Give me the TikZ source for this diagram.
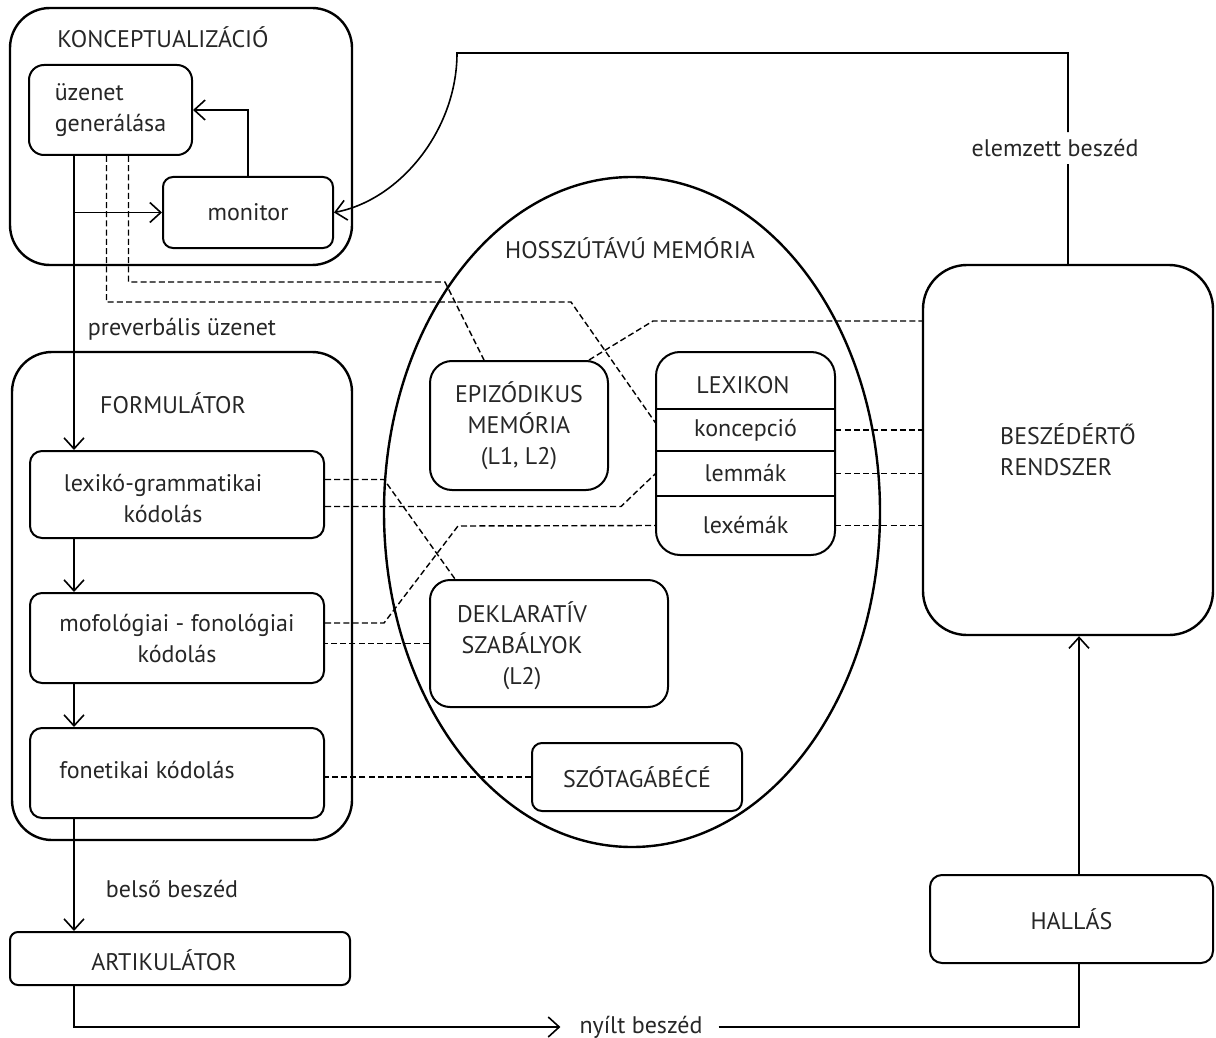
\documentclass[tikz,border=0pt]{standalone}
\usepackage{fontspec}
\setmainfont{PT Sans}
\usetikzlibrary{arrows.meta,shapes.geometric}

\begin{document}
\begin{tikzpicture}[x=0.5pt,y=-0.5pt,
		font=\fontsize{12}{15.5}\selectfont,text=black!85,
		box/.style={draw=black,line width=1pt,rounded corners=6pt,align=center,inner sep=0pt},
		big/.style={box,line width=1.2pt,rounded corners=20pt},
		conn/.style={line width=0.8pt},
		arr/.style={conn,-{Straight Barb[length=5.5pt,width=10pt]}},
		dashline/.style={line width=0.7pt,dash pattern=on 3pt off 1.6pt}]
			\useasboundingbox (0,0) rectangle (1216,1038);

			\node[big,minimum width=171pt,minimum height=128.5pt] (conc) at (181,136.5) {};
			\node (conclbl) at (163,37) {KONCEPTUALIZÁCIÓ};
			\node[box,rounded corners=7.5pt,align=left,minimum width=81.5pt,minimum height=45pt] (gen) at (110.5,110) {üzenet\\generálása};
			\node[box,rounded corners=5pt,minimum width=85pt,minimum height=35.5pt] (mon) at (248,212.5) {monitor};

			\node[big,minimum width=170pt,minimum height=244pt] (form) at (182,596) {};
			\node (formlbl) at (173,403) {FORMULÁTOR};
			\node[box,minimum width=147pt,minimum height=43.5pt,label={[align=center,xshift=-7pt,yshift=-2pt]center:lexikó-grammatikai\\kódolás}] (lexgram) at (177,494.5) {};
			\node[box,minimum width=147pt,minimum height=45pt] (morph) at (177,638) {mofológiai - fonológiai\\kódolás};
			\node[box,minimum width=147pt,minimum height=45pt,label={[xshift=-15pt,yshift=1.5pt]center:fonetikai kódolás}] (phon) at (177,773) {};
			\node[box,rounded corners=4pt,minimum width=170pt,minimum height=26.5pt,label={[xshift=-8pt,yshift=-1pt]center:ARTIKULÁTOR}] (artic) at (180,958.5) {};

			\node[draw=black,ellipse,line width=1.2pt,minimum width=248pt,minimum height=335pt,inner sep=0pt] (ltm) at (632,512) {};
			\node (ltmlbl) at (630,248) {HOSSZÚTÁVÚ MEMÓRIA};
			\node[box,rounded corners=11pt,minimum width=89pt,minimum height=64.5pt] (epi) at (519,425.5) {EPIZÓDIKUS\\MEMÓRIA\\(L1, L2)};
			\node[box,rounded corners=12pt,minimum width=89.5pt,minimum height=101.5pt] (lex) at (745.5,453.5) {};
			\node (lextitle) at (743,385) {LEXIKON};
			\node[minimum width=89.5pt,minimum height=21pt,inner sep=0pt] (kcp) at (745.5,430) {koncepció};
			\node[minimum width=89.5pt,minimum height=22.5pt,inner sep=0pt] (lem) at (745.5,473.5) {lemmák};
			\node[minimum width=89.5pt,minimum height=29.5pt,inner sep=0pt] (lxm) at (745.5,525.5) {lexémák};
			\draw[line width=1pt] (kcp.north west) -- (kcp.north east);
			\draw[line width=1pt] (lem.north west) -- (lem.north east);
			\draw[line width=1pt] (lxm.north west) -- (lxm.north east);
			\node[box,rounded corners=10pt,minimum width=119pt,minimum height=63.5pt,label={[align=center,xshift=-13.5pt,yshift=-1pt]center:DEKLARATÍV\\SZABÁLYOK\\(L2)}] (decl) at (549,643.5) {};
			\node[box,rounded corners=5pt,minimum width=105pt,minimum height=34pt] (syl) at (637,777) {SZÓTAGÁBÉCÉ};

			\node[box,rounded corners=22pt,line width=1.2pt,align=left,minimum width=145pt,minimum height=185pt] (comp) at (1068,450) {BESZÉDÉRTŐ\\RENDSZER};
			\node[box,minimum width=141.5pt,minimum height=44pt] (hear) at (1071.5,919) {HALLÁS};

			\node (elem) at (1055,148) {elemzett beszéd};
			\node (prev) at (182,329) {preverbális üzenet};
			\node (inner) at (172,889) {belső beszéd};
			\node (open) at (641,1027) {nyílt beszéd};

			\coordinate (spine) at (74,0);
			\coordinate (ear) at (1079,0);

			\draw[arr] (gen.south -| spine) -- (lexgram.north -| spine);
			\draw[arr] (spine |- mon.west) -- (mon.west);
			\draw[arr] (mon.north) |- (gen.east);
			\draw[arr] (lexgram.south -| spine) -- (morph.north -| spine);
			\draw[arr] (morph.south -| spine) -- (phon.north -| spine);
			\draw[arr] (phon.south -| spine) -- (artic.north -| spine);
			\draw[arr] (artic.south -| spine) |- ([xshift=-6pt]open.west);
			\draw[conn] ([xshift=4.5pt]open.east) -| (hear.south -| ear);
			\draw[arr] (hear.north -| ear) -- (comp.south -| ear);
			\draw[conn] (comp.north) -- (comp.north |- elem.south);
			\draw[arr] (comp.north |- elem.north) |- (457,53) .. controls (457,130) and (400,200) .. (mon.east);

			\draw[dashline] ([xshift=9pt]gen.south) |- (445,282) -- ([xshift=-17.5pt]epi.north);
			\draw[dashline] ([xshift=-2pt]gen.south) |- (571,302) -- ([yshift=3.5pt]kcp.west);
			\draw[dashline] ([xshift=35pt]epi.north) -- (653,321) -- (comp.west |- 0,321);
			\draw[dashline] (kcp.east) -- (kcp.east -| comp.west);
			\draw[dashline] (lem.east) -- (lem.east -| comp.west);
			\draw[dashline] (lxm.east) -- (lxm.east -| comp.west);
			\draw[dashline] ([yshift=7.5pt]lexgram.east) -- ++(59,0) -- ([xshift=-47pt]decl.north);
			\draw[dashline] ([yshift=-6pt]lexgram.east) -- ++(296,0) -- (lem.west);
			\draw[dashline] ([yshift=7.5pt]morph.east) -- ++(59,0) -- ++(74,-97) -- (lxm.west);
			\draw[dashline] (decl.west) -- (decl.west -| morph.east);
			\draw[dashline] (syl.west) -- (syl.west -| phon.east);
		\end{tikzpicture}
\end{document}
